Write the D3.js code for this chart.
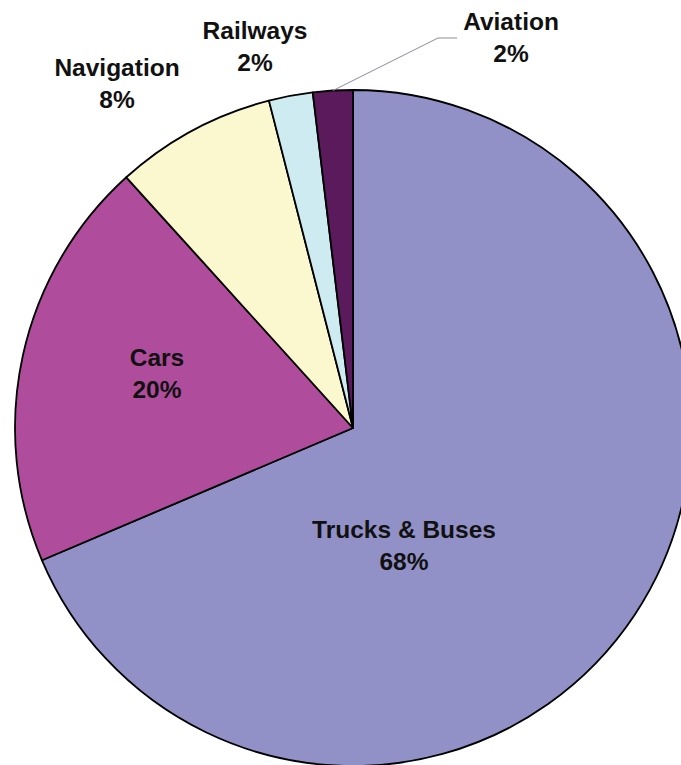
<!DOCTYPE html>
<html>
<head>
<meta charset="utf-8">
<script src="https://cdn.jsdelivr.net/npm/d3@7"></script>
<style>
  body { margin: 0; background: #fff; }
  .lbl { font-family: "Liberation Sans", Arial, sans-serif; font-weight: bold; font-size: 24.5px; fill: #111; }
</style>
</head>
<body>
<div id="chart"></div>
<script>
// slices, clockwise from 12 o'clock
const categories = ["Trucks & Buses", "Cars", "Navigation", "Railways", "Aviation"]
const shares = [68.6, 19.7, 7.7, 2.1, 1.9]
const pctLabels = ["68%", "20%", "8%", "2%", "2%"]
const colors = ["#9191c8", "#b04c9c", "#fbf7cf", "#cdebf0", "#5b1a5b"]

const WIDTH = 681, HEIGHT = 765
const CX = 353, CY = 428, R = 338

// label anchor (centre of first line baseline), in page pixels
const LABEL_POS = {
	"Trucks & Buses": [404, 538],
	"Cars": [157, 366],
	"Navigation": [117, 76],
	"Railways": [255, 39],
	"Aviation": [511, 30]
}
const LINE_GAP = 32

const data = categories.map((c, i) => ({ name: c, value: shares[i], pct: pctLabels[i], color: colors[i] }))

const svg = d3.select("#chart")
	.append("svg")
		.attr("width", WIDTH)
		.attr("height", HEIGHT)

const g = svg.append("g")
	.attr("transform", `translate(${CX}, ${CY})`)

const pie = d3.pie()
	.sort(null)
	.value(d => d.value)

const arc = d3.arc()
	.innerRadius(0)
	.outerRadius(R)

const arcs = pie(data)

g.selectAll("path.slice")
	.data(arcs)
	.enter().append("path")
		.attr("class", "slice")
		.attr("d", arc)
		.attr("fill", d => d.data.color)
		.attr("stroke", "#000")
		.attr("stroke-width", 1.8)
		.attr("stroke-linejoin", "round")

// leader line for the small Aviation slice
const av = arcs.find(d => d.data.name === "Aviation")
const mid = (av.startAngle + av.endAngle) / 2
const edge = [Math.sin(mid) * R + CX, -Math.cos(mid) * R + CY]
svg.append("polyline")
	.attr("points", [edge, [438, 38], [457, 38]].map(p => p.join(",")).join(" "))
	.attr("fill", "none")
	.attr("stroke", "#8a8aa8")
	.attr("stroke-width", 1)

// labels
const labels = svg.selectAll("g.label")
	.data(arcs)
	.enter().append("g")
		.attr("class", "label")
		.attr("transform", d => `translate(${LABEL_POS[d.data.name][0]}, ${LABEL_POS[d.data.name][1]})`)

labels.append("text")
	.attr("class", "lbl")
	.attr("text-anchor", "middle")
	.text(d => d.data.name)

labels.append("text")
	.attr("class", "lbl")
	.attr("text-anchor", "middle")
	.attr("y", LINE_GAP)
	.text(d => d.data.pct)
</script>
</body>
</html>
